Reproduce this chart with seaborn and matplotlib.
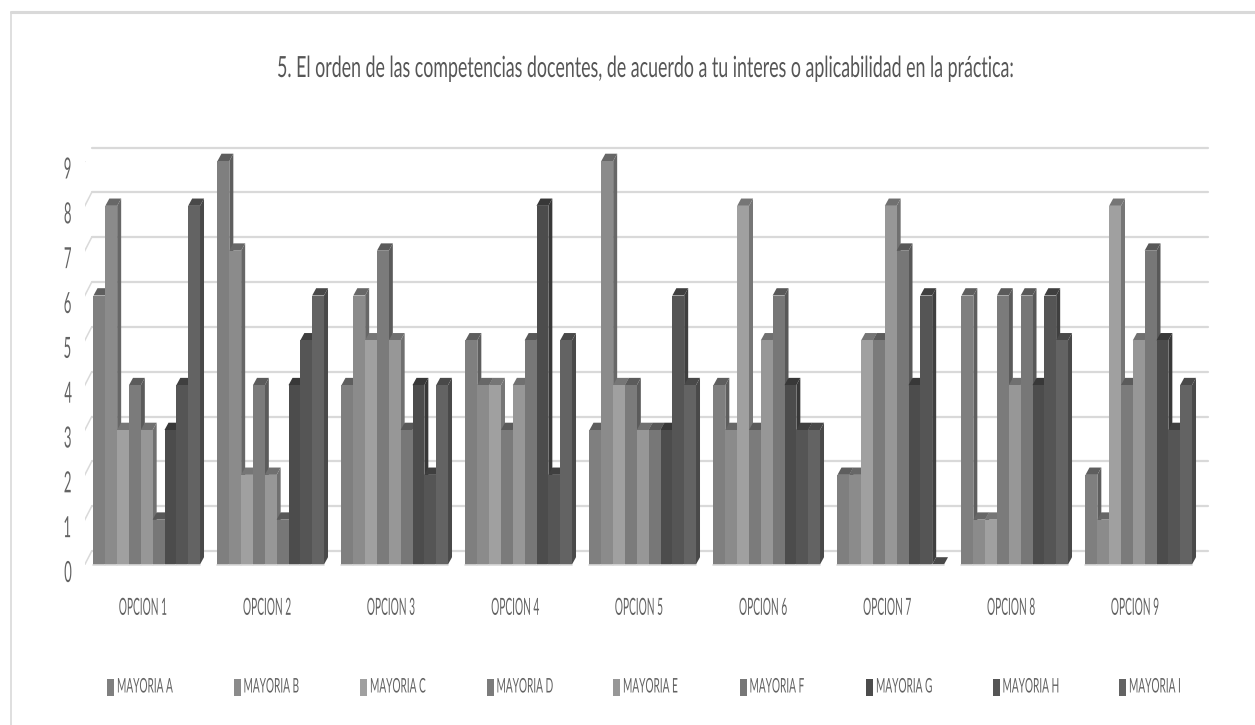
import pandas as pd
import matplotlib
matplotlib.use("Agg")
import matplotlib.pyplot as plt
import matplotlib.patheffects as pe
from matplotlib.lines import Line2D
from matplotlib.patches import Polygon, Rectangle
from matplotlib.transforms import Affine2D
import seaborn as sns

TITLE = "5. El orden de las competencias docentes, de acuerdo a tu interes o aplicabilidad en la práctica:"
opciones = ["OPCION 1", "OPCION 2", "OPCION 3", "OPCION 4", "OPCION 5",
            "OPCION 6", "OPCION 7", "OPCION 8", "OPCION 9"]
mayorias = ["MAYORIA A", "MAYORIA B", "MAYORIA C", "MAYORIA D", "MAYORIA E",
            "MAYORIA F", "MAYORIA G", "MAYORIA H", "MAYORIA I"]
mayoria_a = [6, 9, 4, 5, 3, 4, 2, 6, 2]
mayoria_b = [8, 7, 6, 4, 9, 3, 2, 1, 1]
mayoria_c = [3, 2, 5, 4, 4, 8, 5, 1, 8]
mayoria_d = [4, 4, 7, 3, 4, 3, 5, 6, 4]
mayoria_e = [3, 2, 5, 4, 3, 5, 8, 4, 5]
mayoria_f = [1, 1, 3, 5, 3, 6, 7, 6, 7]
mayoria_g = [3, 4, 4, 8, 3, 4, 4, 4, 5]
mayoria_h = [4, 5, 2, 2, 6, 3, 6, 6, 3]
mayoria_i = [8, 6, 4, 5, 4, 3, 0, 5, 4]
colores = ["#7f7f7f", "#8b8b8b", "#a0a0a0", "#7b7b7b", "#979797",
           "#777777", "#4c4c4c", "#555555", "#636363"]

series = [mayoria_a, mayoria_b, mayoria_c, mayoria_d, mayoria_e,
          mayoria_f, mayoria_g, mayoria_h, mayoria_i]
df = pd.DataFrame(series, index=mayorias, columns=opciones)
df = df.rename_axis("mayoria").reset_index().melt(id_vars="mayoria", var_name="opcion", value_name="valor")

W, H = 1255, 725
TEXT = "#636363"
GRID = "#d9d9d9"


# the original text is squashed sideways, matplotlib has no condensed font option
class Squeeze(pe.AbstractPathEffect):
    def __init__(self, sx, centre=True):
        super().__init__()
        self.sx = sx
        self.centre = centre

    def draw_path(self, renderer, gc, tpath, affine, rgbFace=None):
        shift = 0
        if self.centre:
            shift = (1 - self.sx) * tpath.get_extents(affine).width / 2
        tr = Affine2D().scale(self.sx, 1) + affine + Affine2D().translate(shift, 0)
        renderer.draw_path(gc, tpath, tr, rgbFace)


sns.set_theme(style="white")
plt.rcParams["font.family"] = ["Lato", "DejaVu Sans"]

fig = plt.figure(figsize=(W / 100, H / 100), dpi=100)
ax = fig.add_axes([84.75 / W, 1 - 564.5 / H, 1116 / W, 403.5 / H])

sns.barplot(data=df, x="opcion", y="valor", hue="mayoria", order=opciones, hue_order=mayorias,
            palette=colores, saturation=1, width=0.859, gap=0, ax=ax)
ax.set_xlim(-0.5, 8.5)
ax.set_ylim(0, 9)
ax.set_xlabel("")
ax.set_ylabel("")
ax.get_legend().remove()
sns.despine(ax=ax, left=True, bottom=True)
ax.tick_params(length=0)


# pixel shift on top of the data scale, for the fake depth
def shifted(dx, dy):
    return ax.transData + Affine2D().translate(dx, dy)


# back wall gridlines and the slanted bit next to the y labels
for v in range(10):
    ax.plot([-0.5, 8.5], [v, v], color=GRID, lw=1.6, transform=shifted(7, 13.5), clip_on=False, zorder=1)
    x0, y0 = ax.transData.transform((-0.5, v))
    ax.add_line(Line2D([x0 - 3.5, x0 + 7], [y0 - 7, y0 + 13.5], color=GRID, lw=1.1,
                       transform=None, zorder=1))

# side and top faces from the bars seaborn drew
DX, DY = 4, 7.3
inv = ax.transData.inverted()
ux = inv.transform((DX, 0))[0] - inv.transform((0, 0))[0]
uy = inv.transform((0, DY))[1] - inv.transform((0, 0))[1]


def darker(color, k=0.74):
    r, g, b = matplotlib.colors.to_rgb(color)
    return (r * k, g * k, b * k)


for i, cont in enumerate(ax.containers):
    for bar in cont:
        x, w, h = bar.get_x(), bar.get_width(), bar.get_height()
        z = 3 + i
        bar.set_zorder(z + 0.5)
        bar.set_edgecolor("none")
        face = darker(bar.get_facecolor())
        ax.add_patch(Polygon([(x + w, 0), (x + w + ux, uy), (x + w + ux, h + uy), (x + w, h)],
                             closed=True, fc=face, ec="none", zorder=z, clip_on=False))
        ax.add_patch(Polygon([(x, h), (x + ux, h + uy), (x + w + ux, h + uy), (x + w, h)],
                             closed=True, fc=face, ec="none", zorder=z, clip_on=False))
        ax.plot([x, x + w], [0, 0], color=GRID, lw=1.2, zorder=z + 0.6, clip_on=False)

ax.set_yticks(range(10))
ax.set_yticklabels([str(v) for v in range(10)], fontsize=21, color=TEXT)
for lab in ax.get_yticklabels():
    lab.set_transform(lab.get_transform() + Affine2D().translate(-3, -7))
    lab.set_path_effects([Squeeze(0.45)])
ax.set_xticks(range(9))
ax.set_xticklabels(opciones, fontsize=17, color=TEXT)
ax.tick_params(axis="x", pad=24)
for lab in ax.get_xticklabels():
    lab.set_transform(lab.get_transform() + Affine2D().translate(-3, 0))
    lab.set_path_effects([Squeeze(0.43)])

title = fig.text(647 / W, 1 - 69 / H, TITLE, ha="center", va="center", fontsize=21, color="#565656")
title.set_path_effects([Squeeze(0.61)])

# legend row, evenly spaced like the original
for i, (name, col) in enumerate(zip(mayorias, colores)):
    left = 107 + i * 126.5
    fig.add_artist(Rectangle((left / W, 1 - 695.5 / H), 7 / W, 17 / H, fc=col, ec="none",
                             transform=fig.transFigure))
    t = fig.text((left + 10) / W, 1 - 687 / H, name, ha="left", va="center", fontsize=14.5, color=TEXT)
    t.set_path_effects([Squeeze(0.5, centre=False)])

# outer frame of the screenshot
fig.add_artist(Line2D([11 / W, 1], [1 - 12 / H, 1 - 12 / H], color=GRID, lw=2.2))
fig.add_artist(Line2D([11 / W, 11 / W], [0, 1 - 12 / H], color=GRID, lw=1.2))

fig.savefig("out.png", dpi=100)
